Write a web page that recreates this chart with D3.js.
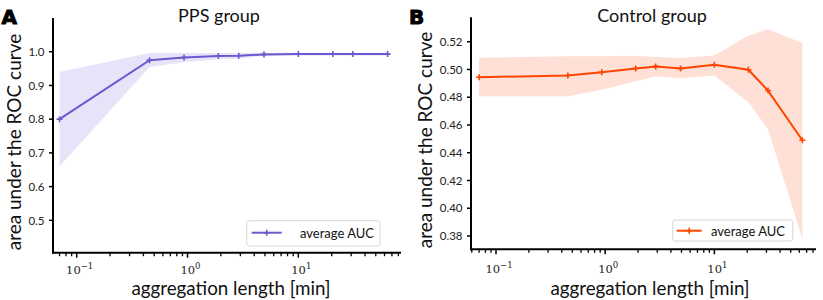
<!DOCTYPE html>
<html>
<head>
<meta charset="utf-8">
<script src="https://cdn.jsdelivr.net/npm/d3@7"></script>
<style>
  html, body { margin: 0; padding: 0; background: #fff; }
  svg { display: block; }
</style>
</head>
<body>
<svg id="chart" width="823" height="300"></svg>
<script>
// ---------- data ----------
const aggLengths = [0.07, 0.455, 0.93, 1.9, 2.9, 4.9, 10, 20.5, 31, 64];

const ppsMean  = [0.800, 0.975, 0.983, 0.987, 0.988, 0.992, 0.993, 0.993, 0.993, 0.993];
const ppsLower = [0.660, 0.955, 0.969, 0.977, 0.979, 0.988, 0.989, 0.989, 0.989, 0.989];
const ppsUpper = [0.940, 0.996, 0.996, 0.996, 0.996, 0.997, 0.997, 0.997, 0.997, 0.997];

const ctrlMean  = [0.4944, 0.4957, 0.4980, 0.5007, 0.5022, 0.5007, 0.5034, 0.4998, 0.4848, 0.4490];
const ctrlLower = [0.4807, 0.4807, 0.4853, 0.4913, 0.4952, 0.4937, 0.4957, 0.4764, 0.4570, 0.3780];
const ctrlUpper = [0.5085, 0.5095, 0.5095, 0.5098, 0.5090, 0.5082, 0.5100, 0.5245, 0.5290, 0.5190];

const ppsYTicks  = [0.5, 0.6, 0.7, 0.8, 0.9, 1.0];
const ctrlYTicks = [0.38, 0.40, 0.42, 0.44, 0.46, 0.48, 0.50, 0.52];
const xMajorTicks = [0.1, 1, 10];
const xMajorExponents = ["\u22121", "0", "1"];

const titles = ["PPS group", "Control group"];
const panelLetters = ["A", "B"];
const legendLabel = "average AUC";
const xLabel = "aggregation length [min]";
const yLabel = "area under the ROC curve";

// ---------- drawing ----------
const svg = d3.select("#chart");
const LABEL_FONT = "Lato, 'Open Sans', sans-serif";

function drawPanel(p) {
  const x = d3.scaleLog().domain(p.xDomain).range([p.left, p.right]);
  const y = d3.scaleLinear().domain(p.yDomain).range([p.bottom, p.top]);
  const g = svg.append("g");

  const rows = aggLengths.map((v, i) => ({x: v, m: p.mean[i], lo: p.lower[i], hi: p.upper[i]}));

  // band
  g.append("path")
    .datum(rows)
    .attr("d", d3.area().x(d => x(d.x)).y0(d => y(d.lo)).y1(d => y(d.hi)))
    .attr("fill", p.bandColor)
    .attr("stroke", "none");

  // line
  g.append("path")
    .datum(rows)
    .attr("d", d3.line().x(d => x(d.x)).y(d => y(d.m)))
    .attr("fill", "none")
    .attr("stroke", p.color)
    .attr("stroke-width", 2);

  // markers
  g.selectAll(".mk").data(rows).enter().append("path")
    .attr("transform", d => `translate(${x(d.x)},${y(d.m)})`)
    .attr("d", "M0,-3V3M-3,0H3")
    .attr("stroke", p.color)
    .attr("stroke-width", 1.6)
    .attr("fill", "none");

  // y axis
  g.append("line")
    .attr("x1", p.left).attr("x2", p.left)
    .attr("y1", p.top).attr("y2", p.bottom + 1)
    .attr("stroke", "#000").attr("stroke-width", 2);
  p.yTicks.forEach(t => {
    g.append("line")
      .attr("x1", p.left - 4).attr("x2", p.left)
      .attr("y1", y(t)).attr("y2", y(t))
      .attr("stroke", "#000").attr("stroke-width", 1.5);
    g.append("text")
      .attr("x", p.left - 8.5).attr("y", y(t) + 4.2)
      .attr("text-anchor", "end")
      .attr("font-family", LABEL_FONT)
      .attr("font-size", 11.5)
      .attr("fill", "#222")
      .text(p.yFormat(t));
  });

  // x axis
  g.append("line")
    .attr("x1", p.left - 1).attr("x2", p.right)
    .attr("y1", p.bottom).attr("y2", p.bottom)
    .attr("stroke", "#000").attr("stroke-width", 2);
  const minor = x.ticks().filter(t => !xMajorTicks.some(m => Math.abs(m - t) < 1e-9));
  minor.forEach(t => {
    g.append("line")
      .attr("x1", x(t)).attr("x2", x(t))
      .attr("y1", p.bottom).attr("y2", p.bottom + 3.5)
      .attr("stroke", "#000").attr("stroke-width", 1.3);
  });
  xMajorTicks.forEach((t, i) => {
    g.append("line")
      .attr("x1", x(t)).attr("x2", x(t))
      .attr("y1", p.bottom).attr("y2", p.bottom + 5)
      .attr("stroke", "#000").attr("stroke-width", 1.5);
    const tx = g.append("text")
      .attr("x", x(t) + 3).attr("y", p.tickLabelY)
      .attr("text-anchor", "middle")
      .attr("font-family", "'DejaVu Serif', serif")
      .attr("fill", "#222");
    tx.append("tspan").attr("font-size", 11.5).text("10");
    tx.append("tspan").attr("font-size", 8.5).attr("dy", -5).text(xMajorExponents[i]);
  });

  // titles & labels
  g.append("text")
    .attr("x", p.titleX).attr("y", 22)
    .attr("text-anchor", "middle")
    .attr("font-family", LABEL_FONT).attr("font-size", 18)
    .attr("fill", "#111")
    .text(p.title);
  g.append("text")
    .attr("x", p.xLabelX).attr("y", 294.5)
    .attr("text-anchor", "middle")
    .attr("font-family", LABEL_FONT).attr("font-size", 18.8)
    .attr("fill", "#111")
    .text(xLabel);
  g.append("text")
    .attr("transform", `translate(${p.yLabelX},${p.yLabelY}) rotate(-90)`)
    .attr("text-anchor", "middle")
    .attr("font-family", LABEL_FONT).attr("font-size", 19)
    .attr("fill", "#111")
    .text(yLabel);
  g.append("text")
    .attr("x", p.letterX).attr("y", 24)
    .attr("font-family", "'DejaVu Sans', sans-serif").attr("font-size", 20)
    .attr("font-weight", 900)
    .attr("stroke", "#000").attr("stroke-width", 1)
    .attr("fill", "#000")
    .text(p.letter);

  // legend
  const L = p.legend;
  g.append("rect")
    .attr("x", L.x).attr("y", L.y).attr("width", L.w).attr("height", L.h)
    .attr("rx", 2.5)
    .attr("fill", "#fff").attr("fill-opacity", 0.85)
    .attr("stroke", "#d6d6d6").attr("stroke-width", 1);
  g.append("line")
    .attr("x1", L.sx1).attr("x2", L.sx2).attr("y1", L.sy).attr("y2", L.sy)
    .attr("stroke", p.color).attr("stroke-width", 2);
  g.append("path")
    .attr("transform", `translate(${(L.sx1 + L.sx2) / 2},${L.sy})`)
    .attr("d", "M0,-3V3M-3,0H3")
    .attr("stroke", p.color).attr("stroke-width", 1.6);
  g.append("text")
    .attr("x", L.tx).attr("y", L.ty)
    .attr("font-family", LABEL_FONT).attr("font-size", 13)
    .attr("fill", "#111")
    .text(legendLabel);
}

drawPanel({
  left: 53, right: 401, top: 18, bottom: 252.7, tickLabelY: 273.5,
  xDomain: [0.0611, 84.5], yDomain: [0.404, 1.1],
  mean: ppsMean, lower: ppsLower, upper: ppsUpper,
  yTicks: ppsYTicks, yFormat: d3.format(".1f"),
  color: "#6a5acd", bandColor: "#e6e4f8",
  title: titles[0], titleX: 219, xLabelX: 231,
  yLabelX: 21, yLabelY: 142,
  letter: panelLetters[0], letterX: 1.5,
  legend: {x: 246.7, y: 220.7, w: 133.3, h: 25.3, sx1: 251.7, sx2: 281.7, sy: 232.7, tx: 300, ty: 237.5}
});

drawPanel({
  left: 471, right: 816, top: 17.3, bottom: 249.3, tickLabelY: 272.5,
  xDomain: [0.0590, 85.3], yDomain: [0.3704, 0.5376],
  mean: ctrlMean, lower: ctrlLower, upper: ctrlUpper,
  yTicks: ctrlYTicks, yFormat: d3.format(".2f"),
  color: "#ff4500", bandColor: "#ffe0d6",
  title: titles[1], titleX: 652, xLabelX: 650,
  yLabelX: 432, yLabelY: 140,
  letter: panelLetters[1], letterX: 409,
  legend: {x: 672.7, y: 220, w: 120, h: 21, sx1: 676.7, sx2: 701.7, sy: 230.7, tx: 711, ty: 235.5}
});
</script>
</body>
</html>
